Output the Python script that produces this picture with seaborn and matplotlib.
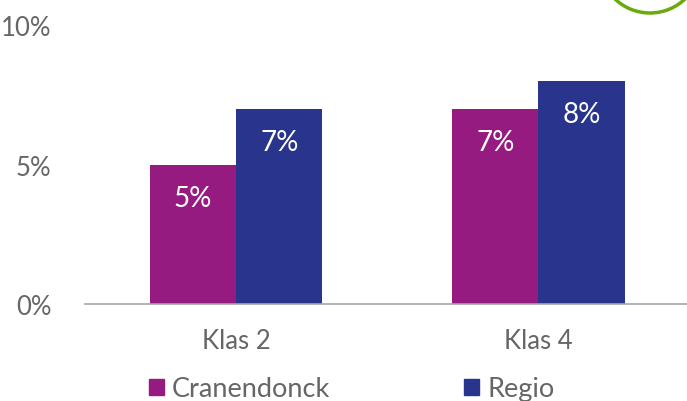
import pandas as pd
import matplotlib.pyplot as plt
import seaborn as sns
from matplotlib.patches import Ellipse, Patch

# data
categories = ["Klas 2", "Klas 4"]
series = ["Cranendonck", "Regio"]
cranendonck = [5, 7]
regio = [7, 8]
colors = ["#951b81", "#29358c"]

df = pd.DataFrame({
    "klas": categories * 2,
    "groep": [series[0]] * 2 + [series[1]] * 2,
    "waarde": cranendonck + regio,
})

sns.set_style("white")
plt.rcParams["font.family"] = ["Lato", "DejaVu Sans"]
grey = "#666666"

fig = plt.figure(figsize=(6.87, 4.02), dpi=100)
ax = fig.add_axes([0.1237, 0.2413, 0.88, 0.694])

sns.barplot(data=df, x="klas", y="waarde", hue="groep", palette=colors,
            width=0.57, saturation=1, legend=False, linewidth=0, ax=ax)

# value labels inside the bars
for cont in ax.containers:
    for bar in cont:
        h = bar.get_height()
        ax.text(bar.get_x() + bar.get_width() / 2, h - 1.2, f"{h:.0f}%",
                ha="center", va="center", color="white", fontsize=20)

ax.set_xlim(-0.5, 1.5)
ax.set_ylim(0, 10)
ax.set_yticks([0, 5, 10])
ax.set_yticklabels(["0%", "5%", "10%"])
ax.set_xlabel("")
ax.set_ylabel("")
ax.tick_params(axis="both", colors=grey, labelsize=18.5, length=0)
ax.tick_params(axis="y", pad=24)
ax.tick_params(axis="x", pad=17)
for side in ["top", "right", "left"]:
    ax.spines[side].set_visible(False)
ax.spines["bottom"].set_color("#a6a6a6")
ax.spines["bottom"].set_linewidth(1.2)

handles = [Patch(color=c, label=s) for c, s in zip(colors, series)]
fig.legend(handles=handles, loc="center left", bbox_to_anchor=(0.217, 0.03), ncol=2,
           frameon=False, fontsize=19.5, handlelength=0.55, handleheight=0.55,
           handletextpad=0.3, columnspacing=4.95, labelcolor=grey,
           borderaxespad=0, borderpad=0)

# green ring at the top right
fig.add_artist(Ellipse((650 / 687, 1 + 36.75 / 402), 2 * 50.75 / 687, 2 * 50.75 / 402,
                       fill=False, edgecolor="#6aaa0a", linewidth=2.5,
                       transform=fig.transFigure, clip_on=False))

fig.savefig("out.png", dpi=100)
